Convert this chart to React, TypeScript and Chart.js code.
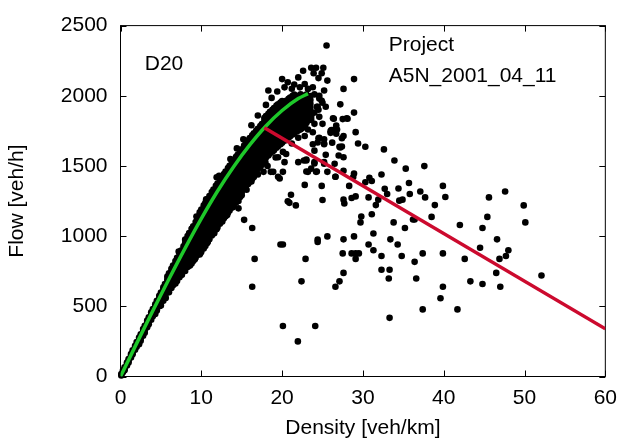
import { useEffect, useRef } from 'react';
import { Chart, registerables } from 'chart.js';

Chart.register(...registerables);

const xTicks = [0, 10, 20, 30, 40, 50, 60];
const yTicks = [0, 500, 1000, 1500, 2000, 2500];
const xTitle = 'Density [veh/km]';
const yTitle = 'Flow [veh/h]';
const labelDetector = 'D20';
const labelProject = ['Project', 'A5N_2001_04_11'];

// dense free-flow band: density column -> flows
const bandDensity = [
  0.1, 0.3, 0.5, 0.8, 1.0, 1.3, 1.5, 1.8, 2.0, 2.3, 2.5, 2.8, 3.0, 3.3, 3.5, 3.8, 4.0, 4.3, 4.5, 4.8,
  5.0, 5.3, 5.5, 5.8, 6.0, 6.3, 6.5, 6.8, 7.0, 7.3, 7.5, 7.8, 8.0, 8.3, 8.5, 8.8, 9.0, 9.3, 9.5, 9.8,
  10.0, 10.3, 10.5, 10.8, 11.0, 11.3, 11.5, 11.8, 12.0, 12.3, 12.5, 12.8, 13.0, 13.3, 13.5, 13.8,
  14.0, 14.3, 14.5, 14.8, 15.0, 15.3, 15.5, 15.8, 16.0, 16.3, 16.5, 16.8, 17.0, 17.3, 17.5, 17.8,
  18.0, 18.3, 18.5, 18.8, 19.0, 19.3, 19.5, 19.8, 20.0, 20.3, 20.5, 20.8, 21.0, 21.3, 21.5, 21.8,
  22.0, 22.3, 22.5, 22.8, 23.0, 23.3, 23.5,
];
const bandFlow: number[][] = [
  [8, 18], [30, 42], [52, 66, 45], [88, 100, 78], [112, 125, 100], [148, 160, 135], [170, 186, 158],
  [205, 218, 190], [228, 245, 212], [262, 278, 245, 230], [285, 300, 270, 255], [322, 338, 305, 290],
  [345, 362, 330, 312], [385, 398, 365, 350], [405, 422, 390, 372], [440, 458, 425, 405],
  [462, 480, 445, 430], [500, 515, 482, 462, 445], [522, 540, 505, 488, 470], [558, 575, 540, 522, 500],
  [580, 598, 562, 545, 522, 505], [618, 635, 600, 580, 560, 540], [640, 658, 622, 602, 585, 560],
  [676, 692, 655, 638, 615, 598, 712], [698, 718, 680, 660, 640, 618, 600, 735], [730, 748, 712, 690, 670, 650, 630, 768],
  [750, 770, 732, 712, 692, 670, 650, 790], [782, 802, 765, 745, 722, 702, 680, 662, 822],
  [802, 822, 785, 765, 742, 722, 700, 680, 845], [835, 855, 815, 795, 772, 750, 728, 708, 878],
  [855, 875, 835, 815, 792, 770, 748, 725, 898], [885, 905, 865, 845, 822, 800, 778, 755, 928],
  [905, 928, 885, 865, 842, 820, 798, 775, 752, 950, 975], [935, 955, 915, 892, 870, 848, 825, 802, 780, 980, 1000],
  [955, 975, 935, 912, 890, 868, 845, 822, 798, 1000, 1022], [985, 1005, 962, 940, 918, 895, 872, 850, 825, 805, 1030, 1052],
  [1002, 1025, 982, 960, 938, 915, 892, 868, 845, 822, 1048, 1070],
  [1032, 1055, 1010, 988, 965, 942, 918, 895, 870, 848, 1078, 1100],
  [1050, 1072, 1028, 1005, 982, 960, 935, 912, 888, 865, 1095, 1118],
  [1078, 1100, 1055, 1032, 1010, 988, 962, 940, 915, 892, 870, 1125, 1148, 1170],
  [1095, 1120, 1075, 1052, 1030, 1005, 982, 958, 935, 910, 888, 1145, 1168, 1190],
  [1125, 1150, 1102, 1080, 1058, 1032, 1010, 985, 960, 938, 912, 1175, 1198, 1220],
  [1142, 1168, 1120, 1098, 1075, 1050, 1028, 1002, 978, 955, 930, 1192, 1215, 1238],
  [1170, 1195, 1148, 1125, 1102, 1078, 1055, 1030, 1005, 982, 958, 1220, 1242, 1265],
  [1190, 1215, 1168, 1145, 1120, 1098, 1075, 1050, 1025, 1000, 978, 1240, 1262, 1285],
  [1218, 1245, 1195, 1172, 1148, 1125, 1100, 1078, 1052, 1028, 1005, 1268, 1292, 1315],
  [1235, 1262, 1212, 1190, 1165, 1142, 1118, 1095, 1070, 1045, 1020, 1285, 1308, 1332],
  [1262, 1288, 1240, 1215, 1192, 1168, 1145, 1120, 1095, 1070, 1048, 1310, 1335, 1358],
  [1280, 1305, 1258, 1235, 1210, 1186, 1162, 1138, 1112, 1088, 1062, 1328, 1352, 1375],
  [1305, 1332, 1282, 1258, 1235, 1210, 1185, 1160, 1138, 1112, 1088, 1355, 1378, 1402],
  [1320, 1348, 1298, 1275, 1250, 1228, 1202, 1178, 1155, 1130, 1105, 1370, 1395, 1418],
  [1345, 1372, 1322, 1298, 1275, 1250, 1226, 1202, 1178, 1152, 1128, 1395, 1420, 1442],
  [1362, 1390, 1340, 1315, 1290, 1266, 1242, 1218, 1192, 1168, 1142, 1412, 1435, 1460],
  [1388, 1415, 1362, 1340, 1315, 1290, 1266, 1240, 1216, 1192, 1166, 1438, 1462, 1485],
  [1402, 1430, 1378, 1355, 1330, 1305, 1280, 1256, 1230, 1206, 1182, 1455, 1478, 1502],
  [1425, 1452, 1400, 1376, 1352, 1328, 1302, 1278, 1252, 1228, 1205, 1480, 1502, 1525],
  [1440, 1468, 1415, 1390, 1366, 1342, 1318, 1292, 1268, 1242, 1220, 1495, 1518, 1542],
  [1462, 1490, 1438, 1412, 1388, 1362, 1338, 1312, 1288, 1262, 1240, 1518, 1542, 1565],
  [1478, 1505, 1452, 1428, 1402, 1378, 1352, 1328, 1302, 1278, 1255, 1532, 1558, 1580],
  [1500, 1528, 1475, 1450, 1425, 1400, 1375, 1350, 1325, 1300, 1278, 1555, 1580, 1602],
  [1515, 1542, 1490, 1465, 1440, 1415, 1390, 1365, 1340, 1315, 1292, 1570, 1595, 1618],
  [1538, 1565, 1512, 1488, 1462, 1438, 1412, 1388, 1362, 1338, 1595, 1620, 1645],
  [1552, 1580, 1525, 1500, 1475, 1450, 1425, 1400, 1375, 1352, 1608, 1635, 1660],
  [1575, 1602, 1548, 1522, 1498, 1472, 1448, 1422, 1398, 1372, 1630, 1658, 1682],
  [1588, 1615, 1562, 1538, 1512, 1488, 1462, 1438, 1412, 1388, 1645, 1672, 1698],
  [1610, 1638, 1585, 1558, 1532, 1508, 1482, 1458, 1432, 1408, 1665, 1692, 1718],
  [1625, 1652, 1598, 1572, 1548, 1522, 1498, 1472, 1448, 1422, 1680, 1708, 1732],
  [1645, 1672, 1618, 1592, 1568, 1542, 1515, 1490, 1465, 1700, 1728, 1752],
  [1658, 1685, 1630, 1605, 1580, 1555, 1528, 1502, 1478, 1712, 1740, 1765],
  [1678, 1705, 1650, 1625, 1598, 1572, 1548, 1522, 1495, 1732, 1760, 1785],
  [1690, 1718, 1662, 1638, 1610, 1585, 1560, 1535, 1508, 1745, 1772, 1798],
  [1708, 1735, 1680, 1655, 1628, 1602, 1575, 1550, 1762, 1790, 1818, 1842],
  [1720, 1748, 1692, 1665, 1638, 1612, 1586, 1560, 1775, 1802, 1830, 1855],
  [1738, 1765, 1710, 1682, 1655, 1628, 1602, 1575, 1792, 1820, 1848, 1872],
  [1750, 1778, 1722, 1695, 1668, 1640, 1615, 1588, 1805, 1832, 1860, 1885],
  [1768, 1795, 1740, 1712, 1685, 1658, 1630, 1602, 1822, 1850, 1878, 1900],
  [1778, 1805, 1750, 1722, 1695, 1668, 1640, 1612, 1832, 1860, 1888, 1912],
  [1795, 1822, 1768, 1740, 1712, 1685, 1658, 1630, 1850, 1878, 1905, 1930],
  [1805, 1832, 1778, 1750, 1722, 1695, 1668, 1640, 1860, 1888, 1915, 1940],
  [1820, 1848, 1792, 1765, 1738, 1710, 1682, 1655, 1875, 1902, 1930, 1952],
  [1830, 1858, 1802, 1775, 1748, 1720, 1692, 1665, 1885, 1912, 1940, 1962],
  [1845, 1872, 1818, 1790, 1762, 1735, 1708, 1680, 1900, 1928, 1955],
  [1855, 1882, 1828, 1800, 1772, 1745, 1718, 1690, 1910, 1938, 1965],
  [1868, 1895, 1840, 1812, 1785, 1758, 1730, 1702, 1922, 1950, 1978],
  [1878, 1905, 1850, 1822, 1795, 1768, 1740, 1712, 1932, 1960, 1988],
  [1890, 1918, 1862, 1835, 1808, 1780, 1752, 1725, 1945, 1972, 2000],
  [1898, 1925, 1870, 1842, 1815, 1788, 1760, 1732, 1952, 1980, 2008],
  [1910, 1938, 1882, 1855, 1828, 1800, 1772, 1745, 1965, 1992],
  [1918, 1945, 1890, 1862, 1835, 1808, 1780, 1752, 1972, 2000],
  [1928, 1955, 1900, 1872, 1845, 1818, 1790, 1762, 1982, 2010],
  [1935, 1962, 1908, 1880, 1852, 1825, 1798, 1770, 1990],
  [1945, 1972, 1918, 1890, 1862, 1835, 1808, 1780, 2000],
  [1952, 1980, 1925, 1898, 1870, 1842, 1815, 2008],
  [1962, 1990, 1935, 1908, 1880, 1852, 1825],
  [1970, 1998, 1942, 1915, 1888, 1860, 1832],
  [1978, 2005, 1950, 1922, 1895, 1868],
  [1985, 2012, 1958, 1930, 1902, 1875],
  [1992, 2020, 1965, 1938, 1910],
  [1998, 1970, 1942, 1915],
  [2002, 1975, 1948, 1920],
  [1980, 1952, 1925],
];

// ragged edges of the band and loose points around the capacity region
const edgePoints: [number, number][] = [
  [5.6, 560], [6.9, 700], [7.6, 725], [8.6, 790], [9.2, 835], [9.9, 880], [10.2, 915], [10.7, 950],
  [11.6, 1020], [11.9, 1050], [12.6, 1105], [13.2, 1150], [13.9, 1205], [14.6, 1250], [15.6, 1330],
  [16.2, 1390], [17.0, 1440], [18.2, 1500], [19.2, 1560], [20.1, 1600], [21.2, 1660], [22.2, 1760],
  [22.7, 1800], [23.6, 1850], [24.0, 1800], [24.5, 1900], [9.4, 1140], [10.6, 1262], [12.2, 1430],
  [13.6, 1550], [15.2, 1690], [16.2, 1790], [17.0, 1860], [18.0, 1935], [18.7, 1985], [19.4, 2030],
  [20.3, 2060], [21.2, 2050], [22.2, 2060], [24.0, 2010], [24.6, 2000], [25.0, 1950], [24.0, 1880],
  [24.6, 1850], [25.0, 1800], [23.2, 1760], [23.8, 1740], [12.0, 1237], [11.0, 1040], [10.0, 924],
  [14.2, 1353], [15.9, 1423], [17.9, 1527], [7.2, 890], [11.9, 1420], [14.4, 1625],
];

// scattered congested points
const scatterPoints: [number, number][] = [
  [28.9, 1880], [28.1, 1836], [26.4, 1836], [29.1, 1741], [26.5, 1760], [26.0, 1748], [27.4, 1697],
  [24.5, 1697], [25.2, 1660], [29.4, 1660], [30.3, 1637], [27.1, 1637], [32.6, 1618], [25.4, 1579],
  [33.9, 1539], [37.6, 1499], [35.3, 1481], [22.7, 1539], [24.0, 1518], [27.6, 1465], [23.0, 1460],
  [24.3, 1460], [26.6, 1423], [28.8, 1421], [32.3, 1439], [30.8, 1416], [31.1, 1393], [30.3, 1384],
  [24.9, 1358], [28.3, 1358], [32.7, 1337], [34.4, 1339], [35.7, 1379], [33.0, 1300], [37.1, 1318],
  [37.7, 1276], [39.9, 1358], [40.2, 1279], [35.8, 1300], [34.9, 1260], [34.5, 1253], [31.9, 1260],
  [30.7, 1276], [28.6, 1272], [27.6, 1260], [27.7, 1233], [25.0, 1258], [20.9, 1237], [21.7, 1219],
  [31.6, 1221], [38.9, 1221], [45.6, 1276], [47.6, 1318], [49.9, 1219], [50.1, 1098], [45.4, 1137],
  [44.8, 1058], [42.0, 1079], [38.5, 1137], [36.2, 1119], [36.4, 1119], [35.2, 1058], [33.8, 1098],
  [31.1, 1156], [29.8, 1140], [29.7, 1098], [31.3, 1019], [33.4, 977], [34.3, 940], [28.9, 998],
  [27.6, 977], [25.6, 998], [24.4, 975], [24.4, 959], [19.8, 940], [20.1, 940], [30.7, 940],
  [31.3, 900], [32.3, 859], [34.8, 859], [37.4, 877], [39.9, 877], [44.5, 917], [46.6, 977],
  [48.0, 900], [47.7, 859], [46.9, 838], [42.6, 838], [36.4, 817], [29.1, 877], [28.6, 877],
  [29.5, 877], [29.1, 838], [27.5, 877], [22.9, 838], [16.6, 838], [32.3, 761], [33.3, 761],
  [33.2, 698], [27.6, 738], [36.6, 698], [46.5, 738], [52.1, 720], [43.3, 678], [44.8, 659],
  [47.0, 639], [39.9, 639], [39.6, 557], [27.1, 678], [26.6, 639], [22.4, 678], [16.3, 639],
  [37.4, 478], [41.7, 478], [33.3, 418], [20.1, 360], [24.1, 360], [21.95, 250],
  [14.6, 1198], [15.3, 1116], [16.3, 1058],
  [25.5, 2358], [23.6, 2200], [24.2, 2200], [25.1, 2200], [23.9, 2161], [24.9, 2161], [24.5, 2126],
  [22.6, 2178], [22.0, 2131], [20.0, 2119], [20.7, 2096], [21.5, 2080], [25.6, 2108], [25.2, 2038],
  [22.8, 2084], [23.2, 2049], [23.8, 2061], [18.3, 2038], [27.2, 1939], [24.6, 1980], [24.9, 1964],
  [24.3, 1922], [26.3, 1840], [27.5, 1834], [26.7, 1788], [26.1, 1755], [26.7, 1729], [27.6, 1713],
  [27.4, 1639], [27.0, 1574], [26.5, 1516], [22.8, 1713], [23.8, 1655], [24.4, 1667], [25.2, 1655],
  [23.0, 1546], [24.0, 1527], [25.2, 1516], [23.2, 1458], [24.2, 1458], [20.5, 1585], [19.5, 1562],
  [20.1, 1458], [19.5, 1423], [18.6, 1458], [17.9, 1527], [17.7, 1458], [15.9, 1419],
  [28.9, 2119], [27.6, 2049], [25.4, 1922], [24.4, 1922], [26.0, 1736], [26.8, 1760], [28.0, 1840],
  [24.6, 1701], [25.2, 1690], [26.2, 1666], [27.2, 1632], [27.6, 1562], [24.0, 1609], [23.0, 1539],
  [23.6, 1481], [25.2, 1527], [25.6, 1458], [26.6, 1423], [28.9, 1446], [29.1, 1283], [22.0, 1527],
  [22.8, 1365], [20.3, 1527], [19.7, 1411], [21.1, 1295], [20.7, 1249], [18.9, 1458], [22.0, 1701],
  [23.6, 1829], [23.0, 1806],
];

// free-flow fit (green) and congested branch (red)
const fitDensity = [0, 2, 4, 6, 8, 10, 12, 14, 16, 18, 20, 22, 23.2];
const fitFlow = [0, 236, 468, 695, 915, 1125, 1320, 1495, 1650, 1785, 1895, 1980, 2015];
const congDensity = [17.8, 60];
const congFlow = [1772, 340];

const FONT = "'Liberation Sans', Arial, Helvetica, sans-serif";

export default function App() {
  const ref = useRef<HTMLCanvasElement | null>(null);

  useEffect(() => {
    const canvas = ref.current;
    if (!canvas) return;

    const obs: { x: number; y: number }[] = [];
    bandDensity.forEach((k, i) => bandFlow[i].forEach((q) => obs.push({ x: k, y: q })));
    edgePoints.forEach(([k, q]) => obs.push({ x: k, y: q }));
    scatterPoints.forEach(([k, q]) => obs.push({ x: k, y: q }));

    const fit = fitDensity.map((k, i) => ({ x: k, y: fitFlow[i] }));
    const cong = congDensity.map((k, i) => ({ x: k, y: congFlow[i] }));

    const framePlugin = {
      id: 'frame',
      beforeDatasetsDraw(chart: any) {
        const { ctx, chartArea: a, scales } = chart;
        ctx.save();
        ctx.strokeStyle = '#000';
        ctx.lineWidth = 1;
        ctx.strokeRect(a.left, a.top, a.right - a.left, a.bottom - a.top);
        ctx.beginPath();
        const tl = 6;
        xTicks.forEach((v) => {
          const px = Math.round(scales.x.getPixelForValue(v)) + 0.5;
          ctx.moveTo(px, a.bottom);
          ctx.lineTo(px, a.bottom - tl);
          ctx.moveTo(px, a.top);
          ctx.lineTo(px, a.top + tl);
        });
        yTicks.forEach((v) => {
          const py = Math.round(scales.y.getPixelForValue(v)) + 0.5;
          ctx.moveTo(a.left, py);
          ctx.lineTo(a.left + tl, py);
          ctx.moveTo(a.right, py);
          ctx.lineTo(a.right - tl, py);
        });
        ctx.stroke();
        ctx.restore();
      },
      afterDraw(chart: any) {
        const { ctx, scales } = chart;
        ctx.save();
        ctx.fillStyle = '#000';
        ctx.font = `21px ${FONT}`;
        ctx.textAlign = 'left';
        ctx.textBaseline = 'alphabetic';
        ctx.fillText(labelDetector, scales.x.getPixelForValue(3.0), scales.y.getPixelForValue(2185));
        ctx.fillText(labelProject[0], scales.x.getPixelForValue(33.2), scales.y.getPixelForValue(2320));
        ctx.fillText(labelProject[1], scales.x.getPixelForValue(33.2), scales.y.getPixelForValue(2097));
        ctx.restore();
      },
    };

    const chart = new Chart(canvas, {
      type: 'scatter',
      data: {
        datasets: [
          {
            data: cong,
            showLine: true,
            borderColor: '#cc0a2e',
            borderWidth: 3.5,
            pointRadius: 0,
            order: 0,
          },
          {
            data: fit,
            showLine: true,
            borderColor: '#1ec82a',
            borderWidth: 3.5,
            pointRadius: 0,
            cubicInterpolationMode: 'monotone',
            order: 1,
          },
          {
            data: obs,
            pointRadius: 3.3,
            pointBorderWidth: 0,
            backgroundColor: '#000',
            borderColor: '#000',
            clip: false,
            order: 2,
          },
        ],
      } as any,
      options: {
        animation: false,
        responsive: false,
        devicePixelRatio: 1,
        layout: { padding: { top: 17.5, right: 15.5, left: 0, bottom: 0 } },
        plugins: { legend: { display: false }, tooltip: { enabled: false } },
        scales: {
          x: {
            type: 'linear',
            min: 0,
            max: 60,
            afterBuildTicks: (s: any) => {
              s.ticks = xTicks.map((v) => ({ value: v }));
            },
            afterFit: (s: any) => {
              s.height = 64.5;
            },
            ticks: {
              autoSkip: false,
              maxRotation: 0,
              padding: 9,
              color: '#000',
              font: { family: FONT, size: 21 },
              callback: (v: any) => String(v),
            },
            grid: { display: false, drawTicks: false },
            border: { display: false },
            title: {
              display: true,
              text: xTitle,
              color: '#000',
              font: { family: FONT, size: 21 },
              padding: { top: 0, bottom: 0 },
            },
          },
          y: {
            type: 'linear',
            min: 0,
            max: 2500,
            afterBuildTicks: (s: any) => {
              s.ticks = yTicks.map((v) => ({ value: v }));
            },
            afterFit: (s: any) => {
              s.width = 120.5;
            },
            ticks: {
              autoSkip: false,
              padding: 13,
              color: '#000',
              font: { family: FONT, size: 21 },
              callback: (v: any) => String(v),
            },
            grid: { display: false, drawTicks: false },
            border: { display: false },
            title: {
              display: true,
              text: yTitle,
              color: '#000',
              font: { family: FONT, size: 21 },
              padding: { top: 5, bottom: 0 },
            },
          },
        },
      } as any,
      plugins: [framePlugin],
    });

    return () => chart.destroy();
  }, []);

  return (
    <div style={{ position: 'absolute', left: 0, top: 0, width: 626, height: 441, background: '#fff' }}>
      <canvas ref={ref} width={626} height={441} style={{ display: 'block' }} />
    </div>
  );
}
